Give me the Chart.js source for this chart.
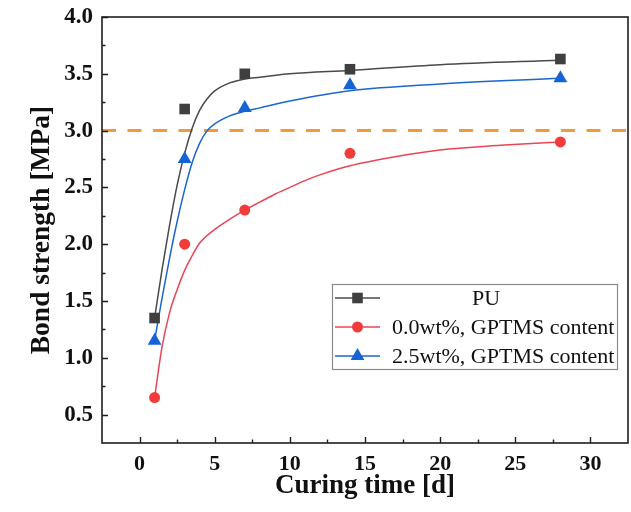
<!DOCTYPE html>
<html>
<head>
<meta charset="utf-8">
<script src="https://cdn.jsdelivr.net/npm/chart.js@4.4.1/dist/chart.umd.min.js"></script>
<style>
  html, body { margin: 0; padding: 0; background: #ffffff; }
  #wrap { width: 631px; height: 512px; position: relative; }
</style>
</head>
<body>
<div id="wrap"><canvas id="c" width="631" height="512"></canvas></div>
<script>
// ---- data ----
const curingDays = [1, 3, 7, 14, 28];
const puValues = [1.35, 3.19, 3.50, 3.54, 3.63];
const gp0Values = [0.65, 2.00, 2.30, 2.80, 2.90];
const gp25Values = [1.15, 2.75, 3.20, 3.40, 3.46];

const puFitX = [1, 1.5, 2, 2.5, 3, 3.5, 4, 4.5, 5, 6, 7, 8, 10, 14, 20, 28];
const puFitY = [1.35, 1.78, 2.17, 2.52, 2.80, 3.02, 3.18, 3.28, 3.35, 3.42, 3.455, 3.47, 3.50, 3.53, 3.58, 3.62];
const gp25FitX = [1, 1.5, 2, 2.5, 3, 3.5, 4, 4.5, 5, 6, 7, 8, 10, 14, 20, 28];
const gp25FitY = [1.15, 1.53, 1.88, 2.20, 2.48, 2.72, 2.89, 3.00, 3.06, 3.13, 3.17, 3.20, 3.26, 3.35, 3.41, 3.46];
const gp0FitX = [1, 1.5, 2, 2.5, 3, 3.5, 4, 5, 6, 7, 8, 9, 10, 11, 12, 14, 17, 20, 24, 28];
const gp0FitY = [0.65, 1.10, 1.40, 1.60, 1.77, 1.90, 2.01, 2.13, 2.22, 2.30, 2.37, 2.44, 2.50, 2.56, 2.61, 2.69, 2.77, 2.83, 2.87, 2.90];

const thresholdX = [-2.5, 32.5];
const thresholdY = [3.0, 3.0];

const xTickValues = [0, 5, 10, 15, 20, 25, 30];
const yTickValues = [0.5, 1.0, 1.5, 2.0, 2.5, 3.0, 3.5, 4.0];

const seriesNames = ['PU', '0.0wt%, GPTMS content', '2.5wt%, GPTMS content'];
const xTitle = 'Curing time [d]';
const yTitle = 'Bond strength [MPa]';

// ---- styles ----
const C_PU = '#3f3f3f', C_PU_LINE = '#4a4a4a';
const C_RED = '#f23b3b', C_RED_LINE = '#ec4455';
const C_BLUE = '#1464d6', C_BLUE_LINE = '#1c66d2';
const C_ORANGE = '#f29a38';
const SERIF = '"Liberation Serif", "Times New Roman", serif';

const toPts = (xs, ys) => xs.map((x, i) => ({x: x, y: ys[i]}));

const framePlugin = {
  id: 'frameTicks',
  afterDraw(chart) {
    const ctx = chart.ctx;
    const a = chart.chartArea;
    const xs = chart.scales.x, ys = chart.scales.y;
    ctx.save();
    ctx.strokeStyle = '#1e1e1e';
    ctx.lineWidth = 1.6;
    ctx.strokeRect(a.left, a.top, a.right - a.left, a.bottom - a.top);
    ctx.lineWidth = 1.4;
    ctx.beginPath();
    xTickValues.forEach(v => {
      const p = Math.round(xs.getPixelForValue(v)) + 0.5;
      ctx.moveTo(p, a.bottom); ctx.lineTo(p, a.bottom - 6);
      const m = Math.round(xs.getPixelForValue(v + 2.5)) + 0.5;
      if (v + 2.5 < xs.max) { ctx.moveTo(m, a.bottom); ctx.lineTo(m, a.bottom - 3.5); }
    });
    yTickValues.forEach(v => {
      const p = Math.round(ys.getPixelForValue(v)) + 0.5;
      ctx.moveTo(a.left, p); ctx.lineTo(a.left + 6, p);
      const m = Math.round(ys.getPixelForValue(v - 0.25)) + 0.5;
      if (v - 0.25 > ys.min) { ctx.moveTo(a.left, m); ctx.lineTo(a.left + 3.5, m); }
    });
    ctx.stroke();
    ctx.restore();
  }
};

function drawMarker(ctx, style, x, y, color) {
  ctx.fillStyle = color;
  ctx.beginPath();
  if (style === 'rect') {
    ctx.rect(x - 5.3, y - 5.3, 10.6, 10.6);
  } else if (style === 'circle') {
    ctx.arc(x, y, 5.5, 0, Math.PI * 2);
  } else {
    ctx.moveTo(x, y - 8); ctx.lineTo(x + 6.9, y + 4); ctx.lineTo(x - 6.9, y + 4); ctx.closePath();
  }
  ctx.fill();
}

const legendPlugin = {
  id: 'boxLegend',
  afterDraw(chart) {
    const ctx = chart.ctx;
    ctx.save();
    const bx = 332, by = 284, bw = 285, bh = 85;
    ctx.fillStyle = '#ffffff';
    ctx.fillRect(bx, by, bw, bh);
    ctx.strokeStyle = '#8a8a8a';
    ctx.lineWidth = 1.2;
    ctx.strokeRect(bx + 0.5, by + 0.5, bw, bh);
    const rows = [
      {y: 298, line: C_PU_LINE, color: C_PU, style: 'rect', textX: 472},
      {y: 327, line: C_RED_LINE, color: C_RED, style: 'circle', textX: 392},
      {y: 356, line: C_BLUE_LINE, color: C_BLUE, style: 'triangle', textX: 392}
    ];
    ctx.font = '22px ' + SERIF;
    ctx.textBaseline = 'middle';
    ctx.textAlign = 'left';
    rows.forEach((r, i) => {
      ctx.strokeStyle = r.line;
      ctx.lineWidth = 1.6;
      ctx.beginPath(); ctx.moveTo(335, r.y); ctx.lineTo(380, r.y); ctx.stroke();
      drawMarker(ctx, r.style, 357.5, r.y, r.color);
      ctx.fillStyle = '#111111';
      ctx.fillText(seriesNames[i], r.textX, r.y + 1);
    });
    ctx.restore();
  }
};

const chart = new Chart(document.getElementById('c'), {
  type: 'scatter',
  data: {
    datasets: [
      {label: 'threshold', data: toPts(thresholdX, thresholdY), showLine: true, borderColor: C_ORANGE, borderWidth: 3, borderDash: [14, 11.5], pointRadius: 0, order: 5},
      {label: 'PU fit', data: toPts(puFitX, puFitY), showLine: true, borderColor: C_PU_LINE, borderWidth: 1.5, pointRadius: 0, cubicInterpolationMode: 'monotone', order: 4},
      {label: 'GP0 fit', data: toPts(gp0FitX, gp0FitY), showLine: true, borderColor: C_RED_LINE, borderWidth: 1.5, pointRadius: 0, cubicInterpolationMode: 'monotone', order: 4},
      {label: 'GP25 fit', data: toPts(gp25FitX, gp25FitY), showLine: true, borderColor: C_BLUE_LINE, borderWidth: 1.5, pointRadius: 0, cubicInterpolationMode: 'monotone', order: 4},
      {label: seriesNames[0], data: toPts(curingDays, puValues), pointStyle: 'rect', pointRadius: 7.5, backgroundColor: C_PU, borderWidth: 0, order: 1},
      {label: seriesNames[1], data: toPts(curingDays, gp0Values), pointStyle: 'circle', pointRadius: 5.5, backgroundColor: C_RED, borderWidth: 0, order: 1},
      {label: seriesNames[2], data: toPts(curingDays, gp25Values), pointStyle: 'triangle', pointRadius: 8, backgroundColor: C_BLUE, borderWidth: 0, order: 1}
    ]
  },
  options: {
    responsive: false,
    animation: false,
    layout: {autoPadding: false, padding: {top: 17, right: 3, left: 0, bottom: 0}},
    plugins: {legend: {display: false}, tooltip: {enabled: false}},
    scales: {
      x: {
        type: 'linear', min: -2.5, max: 32.5,
        afterBuildTicks: s => { s.ticks = xTickValues.map(v => ({value: v})); },
        afterFit: s => { s.height = 69; s.paddingLeft = 0; s.paddingRight = 0; },
        grid: {display: false, drawTicks: false},
        border: {display: false},
        ticks: {padding: 8, color: '#111', font: {family: SERIF, size: 22, weight: 'bold'}, callback: v => String(v)},
        title: {display: true, text: xTitle, color: '#111', padding: {top: 0, bottom: 10}, font: {family: SERIF, size: 27, weight: 'bold'}}
      },
      y: {
        type: 'linear', min: 0.25, max: 4.0,
        afterBuildTicks: s => { s.ticks = yTickValues.map(v => ({value: v})); },
        afterFit: s => { s.width = 102; s.paddingTop = 0; s.paddingBottom = 0; },
        grid: {display: false, drawTicks: false},
        border: {display: false},
        ticks: {padding: 9, color: '#111', font: {family: SERIF, size: 23, weight: 'bold'}, callback: v => Number(v).toFixed(1)},
        title: {display: true, text: yTitle, color: '#111', padding: {top: 25, bottom: 0}, font: {family: SERIF, size: 27.5, weight: 'bold'}}
      }
    }
  },
  plugins: [framePlugin, legendPlugin]
});
</script>
</body>
</html>
